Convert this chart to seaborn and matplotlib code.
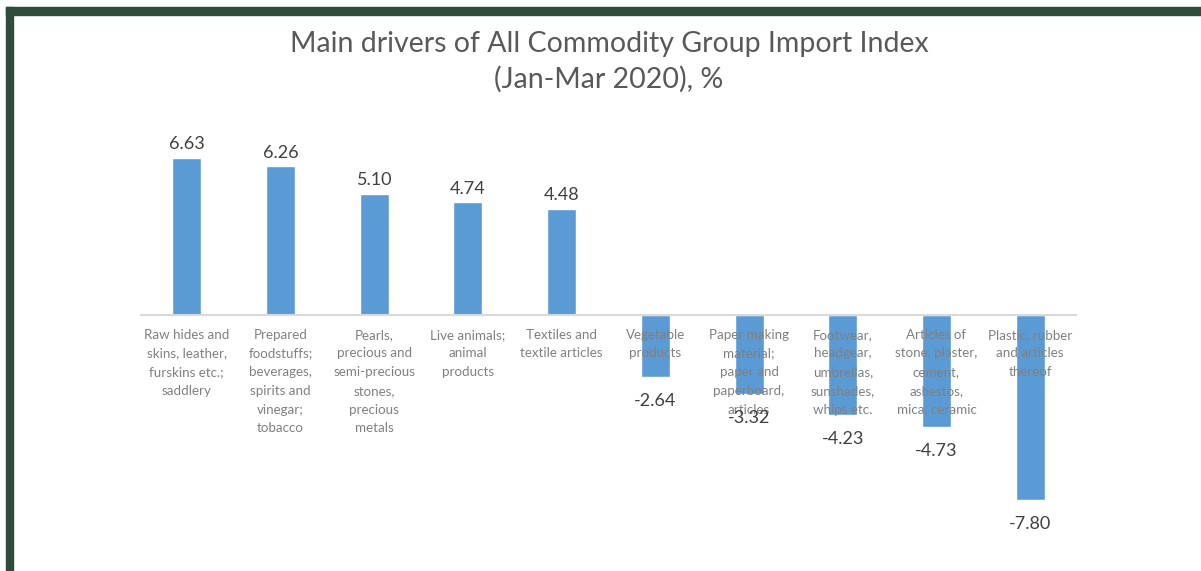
import matplotlib
matplotlib.use("Agg")
import matplotlib.pyplot as plt
import seaborn as sns
import pandas as pd
from matplotlib.patches import Rectangle

categories = [
    "Raw hides and\nskins, leather,\nfurskins etc.;\nsaddlery",
    "Prepared\nfoodstuffs;\nbeverages,\nspirits and\nvinegar;\ntobacco",
    "Pearls,\nprecious and\nsemi-precious\nstones,\nprecious\nmetals",
    "Live animals;\nanimal\nproducts",
    "Textiles and\ntextile articles",
    "Vegetable\nproducts",
    "Paper making\nmaterial;\npaper and\npaperboard,\narticles",
    "Footwear,\nheadgear,\numbrellas,\nsunshades,\nwhips etc.",
    "Articles of\nstone, plaster,\ncement,\nasbestos,\nmica, ceramic",
    "Plastic, rubber\nand articles\nthereof",
]
values = [6.63, 6.26, 5.10, 4.74, 4.48, -2.64, -3.32, -4.23, -4.73, -7.80]
title = "Main drivers of All Commodity Group Import Index\n(Jan-Mar 2020), %"

sns.set_theme(style="white")
plt.rcParams['font.family'] = ['Lato', 'DejaVu Sans']

df = pd.DataFrame({"cat": categories, "val": values})

fig = plt.figure(figsize=(12.01, 5.71), dpi=100)
ax = fig.add_axes([140/1201, 28.5/571, 937/1201, 405.5/571])

sns.barplot(data=df, x="cat", y="val", order=categories, color="#5B9BD5",
            width=0.31, saturation=1, ax=ax, zorder=1)

ax.set_xlim(-0.5, len(categories) - 0.5)
ax.set_ylim(-9.6, 7.5)
ax.axhline(0, color="#d9d9d9", lw=1.5, zorder=2)
for s in ax.spines.values():
    s.set_visible(False)
ax.set_xticks([])
ax.set_yticks([])
ax.set_xlabel("")
ax.set_ylabel("")

for i, (c, v) in enumerate(zip(categories, values)):
    ax.annotate(c, xy=(i, 0), xytext=(0, -10), textcoords="offset points",
                ha="center", va="top", fontsize=9.6, color="#808080",
                linespacing=1.67, zorder=5)
    if v >= 0:
        ax.annotate(f"{v:.2f}", xy=(i, v), xytext=(0, 4), textcoords="offset points",
                    ha="center", va="bottom", fontsize=13, color="#404040", zorder=5)
    else:
        ax.annotate(f"{v:.2f}", xy=(i, v), xytext=(0, -11.5), textcoords="offset points",
                    ha="center", va="top", fontsize=13, color="#404040", zorder=5)

fig.text(609/1201, 1 - 31/571, title, ha="center", va="top", fontsize=20.5,
         color="#595959", linespacing=1.42)

# dark green frame
fig.add_artist(Rectangle((6/1201, 0), 7/1201, 1 - 7/571, transform=fig.transFigure,
                         color="#2e4b3b", zorder=10))
fig.add_artist(Rectangle((6/1201, 1 - 15/571), 1, 8/571, transform=fig.transFigure,
                         color="#2e4b3b", zorder=10))

fig.savefig("out.png", dpi=100)
